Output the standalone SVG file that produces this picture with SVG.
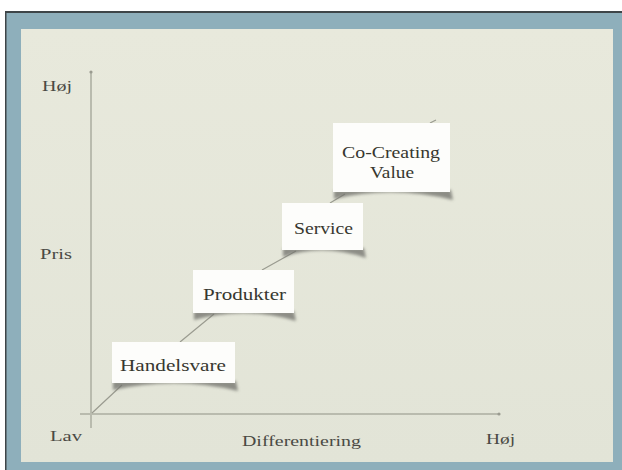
<svg xmlns="http://www.w3.org/2000/svg" width="622" height="470" viewBox="0 0 622 470">
<defs>
<style>
.lbl{font-family:"Liberation Serif","DejaVu Serif",serif;font-size:15px;fill:#4a4a44}
.box{fill:#fdfdfb}
.bt{font-family:"Liberation Serif","DejaVu Serif",serif;font-size:17px;fill:#37372f}
.axis{stroke:#b9bbae;stroke-width:2;fill:none}
.diag{stroke:#9a9b90;stroke-width:1.2;fill:none}
.sh{fill:#6f706a;opacity:0.75;filter:url(#blur)}
</style>
<filter id="blur" x="-10%" y="-50%" width="120%" height="200%"><feGaussianBlur stdDeviation="1.6"/></filter>
<linearGradient id="bg" x1="0" y1="0" x2="0" y2="1"><stop offset="0" stop-color="#e8e9dc"/><stop offset="1" stop-color="#e2e4d7"/></linearGradient>
</defs>
<rect x="0" y="0" width="622" height="470" fill="#ffffff"/>
<rect x="5" y="11" width="617" height="459" fill="#8eafbb"/>
<rect x="5" y="11" width="617" height="2" fill="#3e4548"/>
<rect x="5" y="11" width="1.5" height="459" fill="#3e4548"/>
<rect x="21" y="29" width="592" height="433" fill="url(#bg)"/>
<g id="axes">
<line class="axis" x1="91" y1="72" x2="91" y2="428"/>
<line class="axis" x1="80" y1="414" x2="499" y2="414"/>
<circle cx="91" cy="72" r="1.6" fill="#9a9b90"/>
<circle cx="499" cy="414" r="1.6" fill="#9a9b90"/>
</g>
<g id="connectors">
<path class="diag" d="M92,413 L122,385 M180,342 L214,314 M262,270 L296,251 M330,203 L345,194 M430,123 L436,120"/>
</g>
<g id="labels">
<text class="lbl" x="42" y="91" textLength="30" lengthAdjust="spacingAndGlyphs">Høj</text>
<text class="lbl" x="40" y="259" textLength="32" lengthAdjust="spacingAndGlyphs">Pris</text>
<text class="lbl" x="50" y="441" textLength="32" lengthAdjust="spacingAndGlyphs">Lav</text>
<text class="lbl" x="242" y="446" textLength="119" lengthAdjust="spacingAndGlyphs">Differentiering</text>
<text class="lbl" x="486" y="444" textLength="29" lengthAdjust="spacingAndGlyphs">Høj</text>
</g>
<g id="handelsvare">
<path class="sh" d="M113,381 L113,390 Q176,376 238,391 L236,381 Z"/>
<rect class="box" x="112" y="342" width="123" height="41"/>
<text class="bt" x="120" y="371" textLength="106" lengthAdjust="spacingAndGlyphs">Handelsvare</text>
</g>
<g id="produkter">
<path class="sh" d="M194,311 L194,320 Q244,306 296,321 L294,311 Z"/>
<rect class="box" x="193" y="270" width="101" height="43"/>
<text class="bt" x="203" y="300" textLength="83" lengthAdjust="spacingAndGlyphs">Produkter</text>
</g>
<g id="service">
<path class="sh" d="M283,248 L283,257 Q322,243 366,258 L364,248 Z"/>
<rect class="box" x="282" y="203" width="81" height="47"/>
<text class="bt" x="294" y="234" textLength="59" lengthAdjust="spacingAndGlyphs">Service</text>
</g>
<g id="cocreating">
<path class="sh" d="M334,190 L334,199 Q392,185 453,200 L451,190 Z"/>
<rect class="box" x="333" y="123" width="117" height="69"/>
<text class="bt" x="342" y="158" textLength="98" lengthAdjust="spacingAndGlyphs">Co-Creating</text>
<text class="bt" x="370" y="178" textLength="44" lengthAdjust="spacingAndGlyphs">Value</text>
</g>
</svg>
